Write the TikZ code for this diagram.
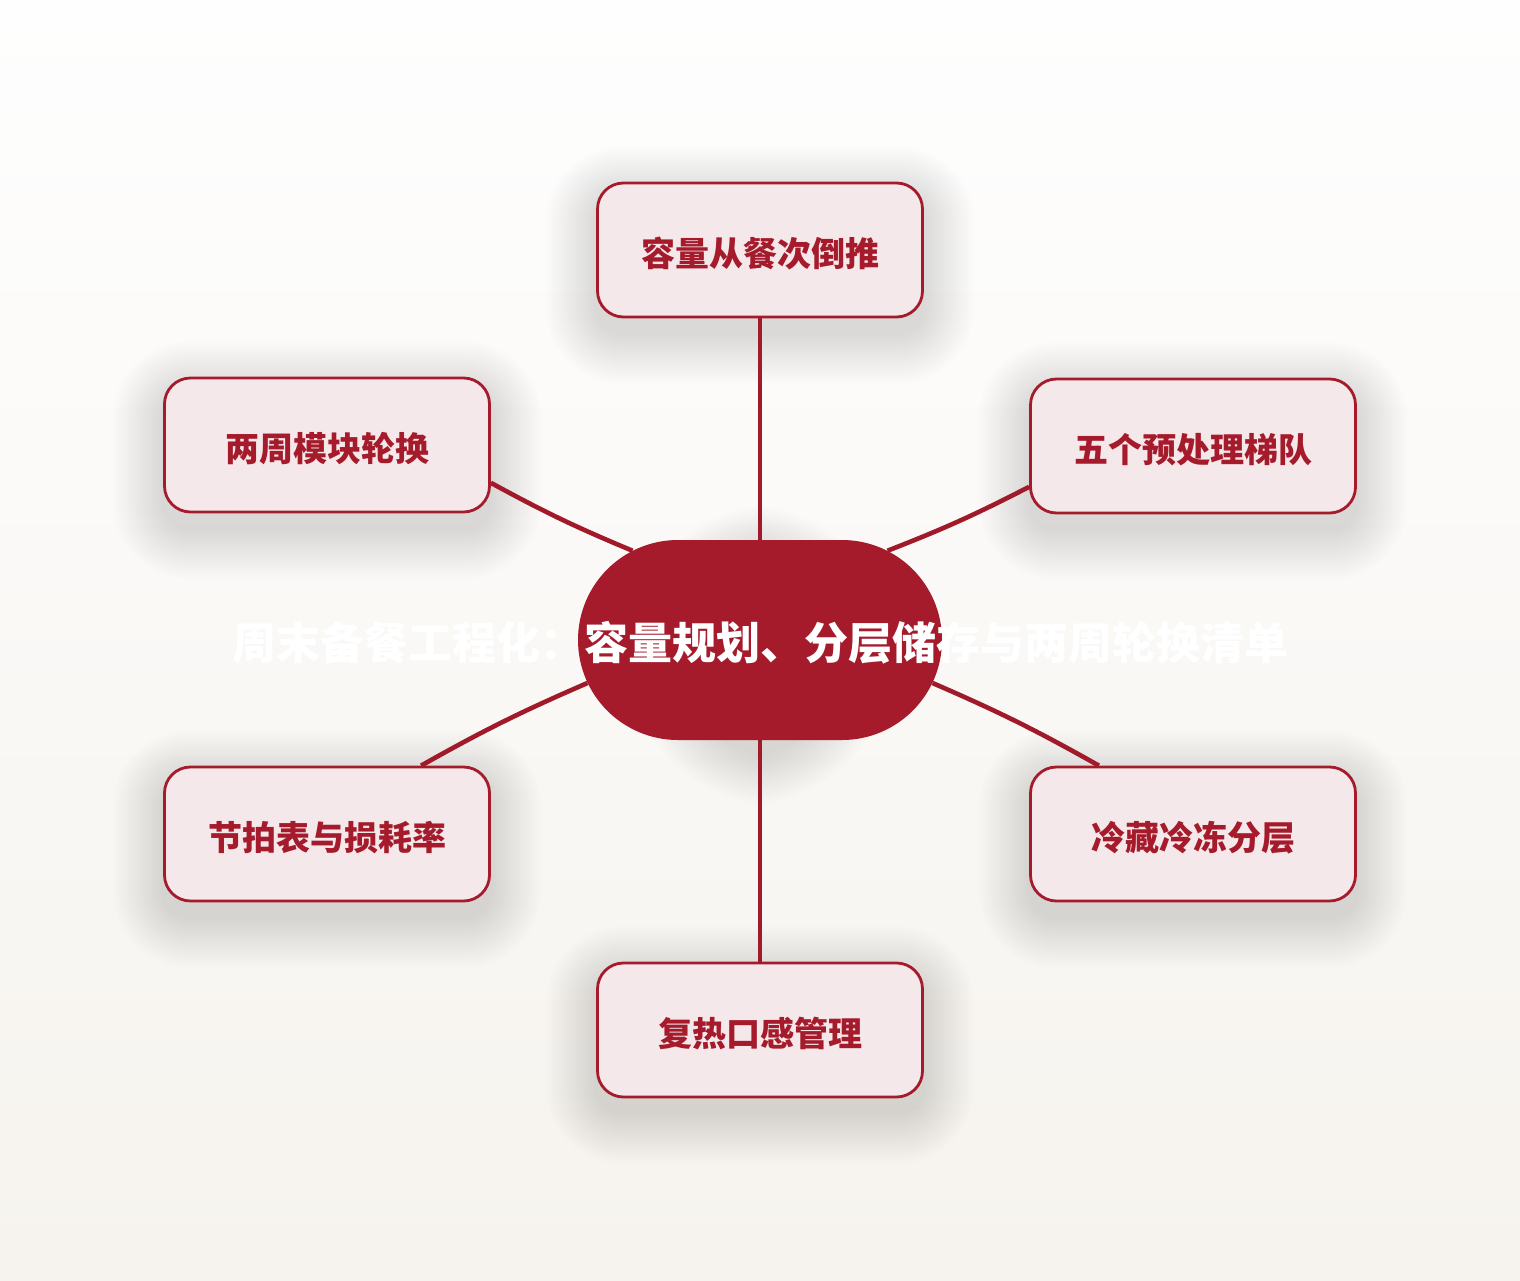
\documentclass[tikz,border=0pt]{standalone}
\usepackage{fontspec}
\newfontfamily\cjk{Noto Sans CJK SC}
\usetikzlibrary{shapes.misc}
\definecolor{mainred}{HTML}{A51B2B}
\definecolor{linkred}{HTML}{A01A29}
\definecolor{boxfill}{HTML}{F5E8EB}
\definecolor{bgtop}{HTML}{FEFEFE}
\definecolor{bgbot}{HTML}{F6F3EE}
\pgfdeclarelayer{bg}
\pgfdeclarelayer{shadow}
\pgfdeclarelayer{edges}
\pgfsetlayers{bg,shadow,edges,main}
\newcommand\softshadow[3]{%
  \foreach \r in {2,5,...,50}{%
    \pgfmathsetmacro\rc{#2+\r}%
    \fill[black, opacity=#3, rounded corners=\rc pt]
      ([shift={(-\r,-\r+15)}]#1.north west) rectangle ([shift={(\r,\r+15)}]#1.south east);}}
\newcommand\lowered[1]{\raisebox{-3.5pt}[\height][\depth]{#1}}
\begin{document}
\begin{tikzpicture}[x=1pt,y=-1pt,
  leaf/.style={draw=mainred, line width=2.8pt, fill=boxfill, rounded corners=26pt,
    minimum width=325pt, minimum height=134pt, inner sep=0pt,
    font=\cjk\bfseries\fontsize{34}{40}\selectfont, text=mainred},
  hub/.style={rounded rectangle, fill=mainred, minimum width=364pt, minimum height=200pt, inner sep=0pt},
  titletext/.style={font=\cjk\bfseries\fontsize{44}{50}\selectfont, text=white, inner sep=0pt},
  link/.style={draw=linkred, line width=4.6pt}]
\useasboundingbox (0,0) rectangle (1520,1280);
\begin{pgfonlayer}{bg}
\shade[top color=bgtop, bottom color=bgbot] (0,0) rectangle (1520,1280);
\end{pgfonlayer}
\node[hub] (c) at (760,640) {};
\node[leaf] (t)  at (760,250)  {\lowered{容量从餐次倒推}};
\node[leaf] (lu) at (327,445)  {\lowered{两周模块轮换}};
\node[leaf] (ru) at (1193,446) {\lowered{五个预处理梯队}};
\node[leaf] (ll) at (327,834)  {\lowered{节拍表与损耗率}};
\node[leaf] (rl) at (1193,834) {\lowered{冷藏冷冻分层}};
\node[leaf] (b)  at (760,1030) {\lowered{复热口感管理}};
\node[titletext] (title) at (760,643) {周末备餐工程化：容量规划、分层储存与两周轮换清单};
\begin{pgfonlayer}{shadow}
\softshadow{c}{100}{0.0095}
\softshadow{t}{26}{0.0065}
\softshadow{lu}{26}{0.0065}
\softshadow{ru}{26}{0.0065}
\softshadow{ll}{26}{0.0065}
\softshadow{rl}{26}{0.0065}
\softshadow{b}{26}{0.0065}
\end{pgfonlayer}
\begin{pgfonlayer}{edges}
\draw[link] (c.north) -- (t.south);
\draw[link] (c.south) -- (b.north);
\draw[link] (c.145) to[bend left=3] (lu.-13.5);
\draw[link] (c.35) to[bend right=3] (ru.-166);
\draw[link] (c.-166) to[bend right=3] (ll.36);
\draw[link] (c.-14.5) to[bend left=3] (rl.144);
\end{pgfonlayer}
\end{tikzpicture}
\end{document}
